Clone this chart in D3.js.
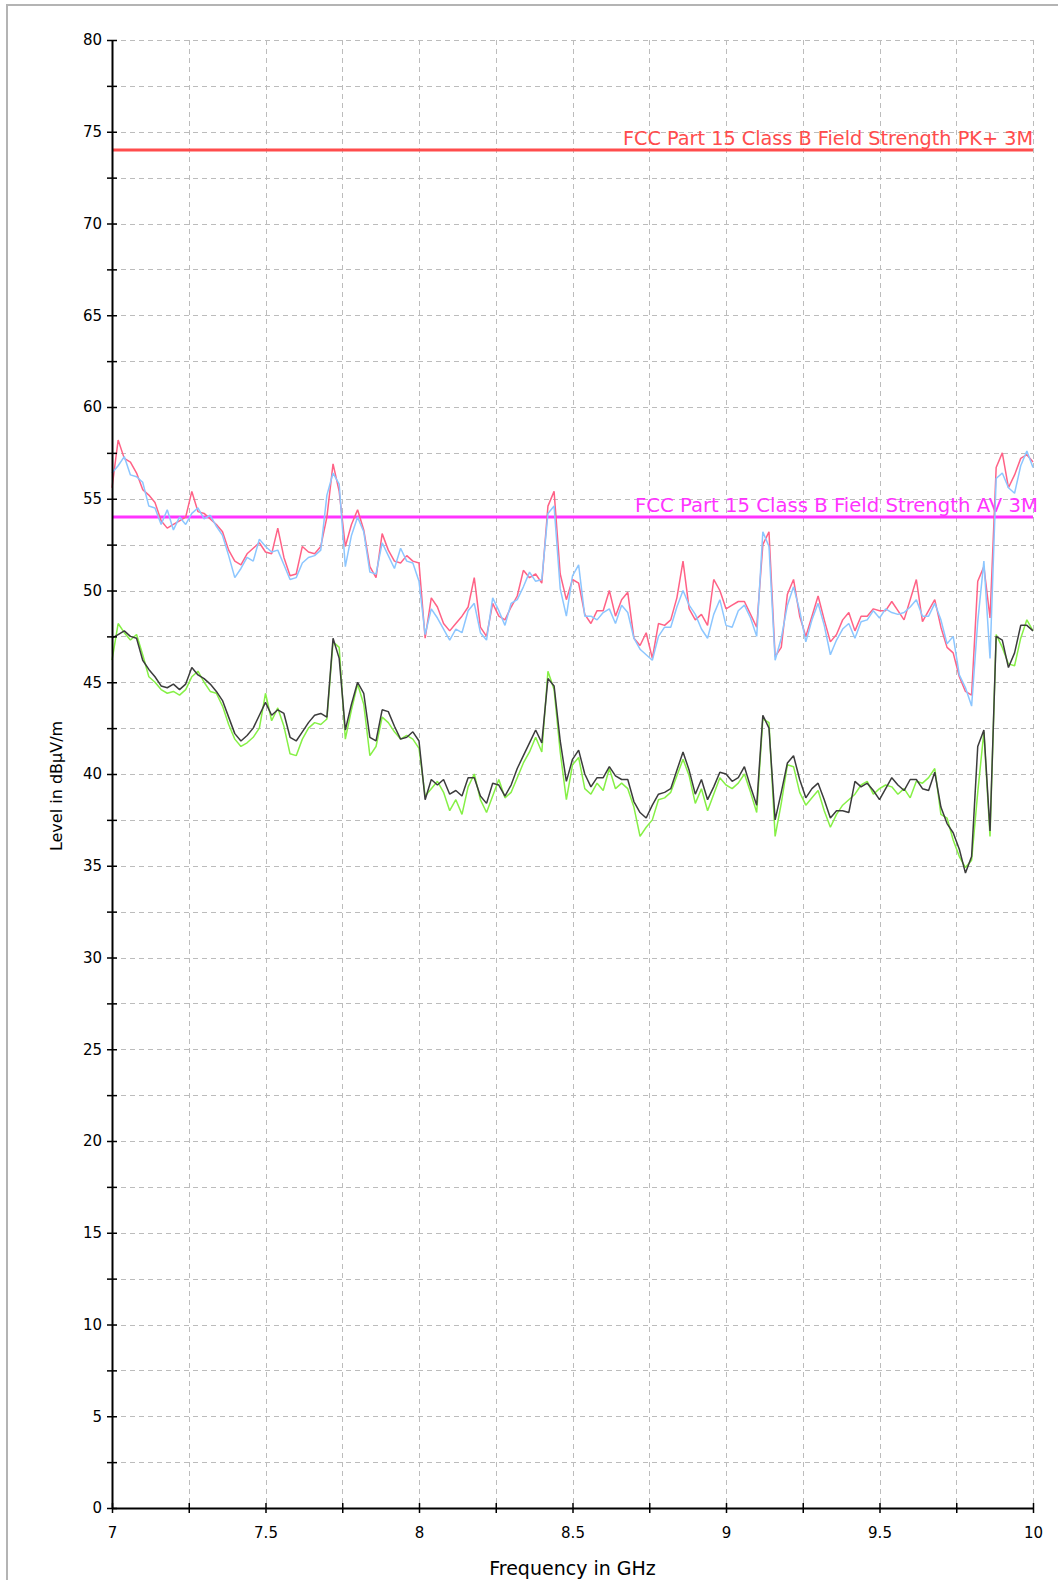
<!DOCTYPE html>
<html>
<head>
<meta charset="utf-8">
<script src="https://cdn.jsdelivr.net/npm/d3@7"></script>
<style>
  body { margin: 0; background: #fff; }
  svg { display: block; }
</style>
</head>
<body>
<svg id="root"></svg>
<script>
// sweep points, GHz
const freqGHz = [
  7.00, 7.02, 7.04, 7.06, 7.08, 7.10, 7.12, 7.14, 7.16, 7.18,
  7.20, 7.22, 7.24, 7.26, 7.28, 7.30, 7.32, 7.34, 7.36, 7.38,
  7.40, 7.42, 7.44, 7.46, 7.48, 7.50, 7.52, 7.54, 7.56, 7.58,
  7.60, 7.62, 7.64, 7.66, 7.68, 7.70, 7.72, 7.74, 7.76, 7.78,
  7.80, 7.82, 7.84, 7.86, 7.88, 7.90, 7.92, 7.94, 7.96, 7.98,
  8.00, 8.02, 8.04, 8.06, 8.08, 8.10, 8.12, 8.14, 8.16, 8.18,
  8.20, 8.22, 8.24, 8.26, 8.28, 8.30, 8.32, 8.34, 8.36, 8.38,
  8.40, 8.42, 8.44, 8.46, 8.48, 8.50, 8.52, 8.54, 8.56, 8.58,
  8.60, 8.62, 8.64, 8.66, 8.68, 8.70, 8.72, 8.74, 8.76, 8.78,
  8.80, 8.82, 8.84, 8.86, 8.88, 8.90, 8.92, 8.94, 8.96, 8.98,
  9.00, 9.02, 9.04, 9.06, 9.08, 9.10, 9.12, 9.14, 9.16, 9.18,
  9.20, 9.22, 9.24, 9.26, 9.28, 9.30, 9.32, 9.34, 9.36, 9.38,
  9.40, 9.42, 9.44, 9.46, 9.48, 9.50, 9.52, 9.54, 9.56, 9.58,
  9.60, 9.62, 9.64, 9.66, 9.68, 9.70, 9.72, 9.74, 9.76, 9.78,
  9.80, 9.82, 9.84, 9.86, 9.88, 9.90, 9.92, 9.94, 9.96, 9.98,
  10.00
]

// peak traces (pink / light blue)
const pkPink = [
  55.6, 58.2, 57.2, 57.0, 56.4, 55.5, 55.2, 54.8, 53.8, 53.4,
  53.6, 53.8, 54.0, 55.4, 54.3, 54.2, 53.9, 53.6, 53.2, 52.2,
  51.6, 51.4, 52.0, 52.3, 52.6, 52.1, 52.0, 53.4, 51.8, 50.8,
  50.9, 52.4, 52.1, 52.0, 52.4, 54.0, 56.9, 55.4, 52.4, 53.6,
  54.4, 53.3, 51.3, 50.7, 53.1, 52.2, 51.6, 51.5, 51.9, 51.6,
  51.5, 47.4, 49.6, 49.1, 48.2, 47.8, 48.2, 48.6, 49.1, 50.7,
  48.0, 47.5, 49.3, 48.6, 48.4, 49.1, 49.7, 51.1, 50.7, 50.9,
  50.4, 54.6, 55.4, 50.9, 49.5, 50.6, 50.4, 48.7, 48.2, 48.9,
  48.9, 50.0, 48.6, 49.5, 49.9, 47.4, 47.0, 47.7, 46.3, 48.2,
  48.1, 48.4, 49.6, 51.6, 49.0, 48.4, 48.7, 48.1, 50.6, 50.0,
  49.0, 49.2, 49.4, 49.4, 48.7, 48.0, 52.5, 53.2, 46.4, 46.9,
  49.8, 50.6, 48.6, 47.5, 48.6, 49.7, 48.4, 47.2, 47.6, 48.4,
  48.8, 47.8, 48.6, 48.6, 49.0, 48.9, 48.9, 49.4, 48.9, 48.4,
  49.5, 50.6, 48.3, 48.9, 49.5, 48.0, 46.9, 46.6, 45.3, 44.5,
  44.3, 50.5, 51.3, 48.5, 56.7, 57.5, 55.6, 56.3, 57.2, 57.4,
  57.0
]
const pkBlue = [
  56.4, 56.8, 57.3, 56.3, 56.2, 55.9, 54.6, 54.5, 53.6, 54.4,
  53.3, 54.0, 53.6, 54.2, 54.5, 53.9, 54.1, 53.5, 53.0, 51.9,
  50.7, 51.2, 51.8, 51.6, 52.8, 52.4, 52.1, 52.2, 51.4, 50.6,
  50.7, 51.5, 51.8, 51.9, 52.2, 55.2, 56.4, 55.8, 51.3, 53.0,
  54.0, 53.2, 51.0, 50.9, 52.6, 51.9, 51.2, 52.3, 51.6, 51.5,
  50.5, 47.6, 49.0, 48.5, 47.9, 47.3, 47.9, 47.7, 48.9, 49.3,
  47.7, 47.3, 49.6, 48.9, 48.1, 49.3, 49.5, 50.2, 51.0, 50.5,
  50.6, 54.2, 54.6, 50.1, 48.6, 50.8, 51.4, 48.6, 48.6, 48.4,
  48.8, 49.0, 48.2, 49.2, 48.8, 47.4, 46.8, 46.5, 46.2, 47.5,
  48.0, 48.0, 49.1, 50.0, 49.2, 48.7, 47.9, 47.4, 48.7, 49.5,
  48.1, 48.0, 48.9, 49.2, 48.5, 47.5, 53.2, 52.4, 46.2, 47.4,
  49.2, 50.2, 48.9, 47.2, 48.4, 49.3, 48.1, 46.5, 47.3, 47.9,
  48.2, 47.4, 48.3, 48.4, 48.9, 48.5, 49.0, 48.8, 48.7, 48.8,
  49.1, 49.5, 48.6, 48.6, 49.3, 48.4, 47.1, 47.5, 45.4, 44.7,
  43.7, 48.3, 51.6, 46.3, 56.1, 56.4, 55.6, 55.3, 56.8, 57.6,
  56.7
]

// average traces (dark grey / green)
const avDark = [
  47.4, 47.6, 47.8, 47.5, 47.4, 46.2, 45.7, 45.3, 44.8, 44.7,
  44.9, 44.6, 44.9, 45.8, 45.4, 45.2, 44.9, 44.5, 44.0, 43.1,
  42.2, 41.8, 42.1, 42.5, 43.2, 43.9, 43.2, 43.5, 43.3, 42.0,
  41.8, 42.3, 42.8, 43.2, 43.3, 43.1, 47.4, 46.3, 42.4, 43.8,
  45.0, 44.4, 42.0, 41.8, 43.5, 43.4, 42.6, 41.9, 42.0, 42.3,
  41.8, 38.6, 39.7, 39.4, 39.7, 38.9, 39.1, 38.8, 39.8, 39.8,
  38.8, 38.4, 39.5, 39.4, 38.8, 39.4, 40.3, 41.0, 41.7, 42.4,
  41.7, 45.2, 44.8, 41.8, 39.6, 40.8, 41.3, 40.0, 39.3, 39.8,
  39.8, 40.4, 39.9, 39.7, 39.7, 38.5, 37.9, 37.6, 38.3, 38.9,
  39.0, 39.2, 40.2, 41.2, 40.2, 38.9, 39.7, 38.6, 39.3, 40.1,
  40.0, 39.6, 39.8, 40.4, 39.3, 38.3, 43.2, 42.5, 37.5, 39.0,
  40.6, 41.0, 39.7, 38.7, 39.2, 39.5, 38.6, 37.6, 38.0, 38.0,
  37.9, 39.6, 39.3, 39.5, 39.1, 38.6, 39.2, 39.8, 39.4, 39.1,
  39.7, 39.7, 39.2, 39.1, 40.1, 38.2, 37.3, 36.8, 35.9, 34.6,
  35.5, 41.5, 42.4, 36.9, 47.5, 47.3, 45.8, 46.6, 48.1, 48.1,
  47.8
]
const avGreen = [
  46.2, 48.2, 47.7, 47.3, 47.6, 46.5, 45.3, 45.0, 44.6, 44.4,
  44.5, 44.3, 44.6, 45.3, 45.6, 45.0, 44.5, 44.4, 43.7, 42.7,
  41.9, 41.5, 41.7, 42.0, 42.5, 44.4, 42.9, 43.6, 42.6, 41.1,
  41.0, 41.9, 42.5, 42.8, 42.7, 43.0, 47.2, 46.9, 41.9, 43.5,
  44.9, 43.8, 41.0, 41.5, 43.1, 42.8, 42.3, 41.9, 42.1, 41.9,
  41.4, 38.8, 39.2, 39.6, 39.0, 38.0, 38.6, 37.8, 39.3, 40.0,
  38.6, 37.9, 38.8, 39.7, 38.7, 39.0, 39.8, 40.6, 41.2, 42.0,
  41.2, 45.6, 44.6, 41.2, 38.6, 40.5, 40.9, 39.2, 38.9, 39.5,
  39.1, 40.3, 39.2, 39.5, 39.2, 38.2, 36.6, 37.1, 37.5, 38.6,
  38.7, 39.0, 39.9, 40.8, 39.9, 38.4, 39.2, 38.0, 38.9, 39.8,
  39.4, 39.2, 39.5, 40.0, 39.0, 37.9, 43.0, 42.8, 36.6, 38.4,
  40.5, 40.4, 39.0, 38.3, 38.7, 39.1, 38.0, 37.1, 37.8, 38.3,
  38.6, 38.9, 39.4, 39.6, 38.9, 39.2, 39.4, 39.3, 38.9, 39.2,
  38.7, 39.6, 39.5, 39.8, 40.3, 37.8, 37.6, 36.4, 35.5, 34.9,
  35.3, 39.0, 42.3, 36.6, 47.6, 46.9, 46.0, 45.9, 47.4, 48.4,
  47.8
]

const limitNames = ["FCC Part 15 Class B Field Strength PK+ 3M", "FCC Part 15 Class B Field Strength AV 3M"]
const limitLevels = [74, 54]
const limitColors = ["#ff4c4c", "#ff33ff"]

const xTicks = [7, 7.25, 7.5, 7.75, 8, 8.25, 8.5, 8.75, 9, 9.25, 9.5, 9.75, 10]
const xLabels = [7, 7.5, 8, 8.5, 9, 9.5, 10]
const yTicks = [0, 2.5, 5, 7.5, 10, 12.5, 15, 17.5, 20, 22.5, 25, 27.5, 30, 32.5, 35, 37.5,
                40, 42.5, 45, 47.5, 50, 52.5, 55, 57.5, 60, 62.5, 65, 67.5, 70, 72.5, 75, 77.5, 80]

const W = 1058, H = 1580
const svg = d3.select("#root").attr("width", W).attr("height", H)
  .style("font-family", "'DejaVu Sans', sans-serif")

// outer panel frame
svg.append("rect")
  .attr("x", 7).attr("y", 5).attr("width", W + 10).attr("height", H + 10)
  .attr("fill", "none").attr("stroke", "#b4b4b4").attr("stroke-width", 2)

const x = d3.scaleLinear([7, 10], [112, 1033])
const y = d3.scaleLinear([0, 80], [1508, 40])

// Grid
const grid = svg.append("g")
  .attr("stroke", "#bcbcbc").attr("stroke-width", 1).attr("stroke-dasharray", "5,4")
grid.selectAll(".gx").data(xTicks.slice(1)).join("line")
  .attr("x1", d => Math.round(x(d)) + 0.5).attr("x2", d => Math.round(x(d)) + 0.5)
  .attr("y1", y(80)).attr("y2", y(0))
grid.selectAll(".gy").data(yTicks.slice(1)).join("line")
  .attr("x1", x(7)).attr("x2", x(10))
  .attr("y1", d => Math.round(y(d)) + 0.5).attr("y2", d => Math.round(y(d)) + 0.5)

// Limit lines + their labels
limitLevels.forEach((lv, i) => {
  svg.append("line")
    .attr("x1", x(7)).attr("x2", x(10))
    .attr("y1", y(lv)).attr("y2", y(lv))
    .attr("stroke", limitColors[i]).attr("stroke-width", 3)
})
svg.append("text")
  .attr("x", 1033).attr("y", y(74) - 5)
  .attr("text-anchor", "end").attr("font-size", 19)
  .attr("fill", limitColors[0])
  .attr("textLength", 410).attr("lengthAdjust", "spacingAndGlyphs")
  .text(limitNames[0])
svg.append("text")
  .attr("x", 1038).attr("y", y(54) - 5)
  .attr("text-anchor", "end").attr("font-size", 19)
  .attr("fill", limitColors[1])
  .attr("textLength", 403).attr("lengthAdjust", "spacingAndGlyphs")
  .text(limitNames[1])

// Traces
const line = d3.line()
  .x((d, i) => x(freqGHz[i]))
  .y(d => y(d))

const traces = [
  [pkPink, "#ff6286"],
  [pkBlue, "#8cc6ff"],
  [avGreen, "#86f046"],
  [avDark, "#3c3c3c"]
]
traces.forEach(([vals, col]) => {
  svg.append("path")
    .datum(vals)
    .attr("fill", "none")
    .attr("stroke", col)
    .attr("stroke-width", 1.5)
    .attr("stroke-linejoin", "bevel")
    .attr("d", line)
})

// Axes
const yAxis = d3.axisLeft(y).tickValues(yTicks).tickSize(5).tickSizeOuter(0)
  .tickFormat(d => d % 5 == 0 ? d : "")
const gy = svg.append("g").attr("transform", `translate(${x(7)},0)`).call(yAxis)
gy.select(".domain").attr("stroke", "#000").attr("stroke-width", 2)
gy.selectAll(".tick line").attr("x1", 5).attr("stroke-width", 1.5)
gy.selectAll(".tick text").attr("font-size", 15).attr("font-family", "'DejaVu Sans', sans-serif")
  .attr("fill", "#000").attr("x", -10)

const xAxis = d3.axisBottom(x).tickValues(xTicks).tickSize(5).tickSizeOuter(0)
  .tickFormat(d => xLabels.includes(d) ? d : "")
const gx = svg.append("g").attr("transform", `translate(0,${y(0)})`).call(xAxis)
gx.select(".domain").attr("stroke", "#000").attr("stroke-width", 2)
gx.selectAll(".tick line").attr("y1", -5).attr("stroke-width", 1.5)
gx.selectAll(".tick text").attr("font-size", 15).attr("font-family", "'DejaVu Sans', sans-serif")
  .attr("fill", "#000").attr("y", 19)

// Axis titles
svg.append("text")
  .attr("transform", `translate(62,${(y(0) + y(80)) / 2 + 12}) rotate(-90)`)
  .attr("text-anchor", "middle").attr("font-size", 16)
  .text("Level in dBµV/m")
svg.append("text")
  .attr("x", (x(7) + x(10)) / 2).attr("y", 1575)
  .attr("text-anchor", "middle").attr("font-size", 19)
  .text("Frequency in GHz")
</script>
</body>
</html>
